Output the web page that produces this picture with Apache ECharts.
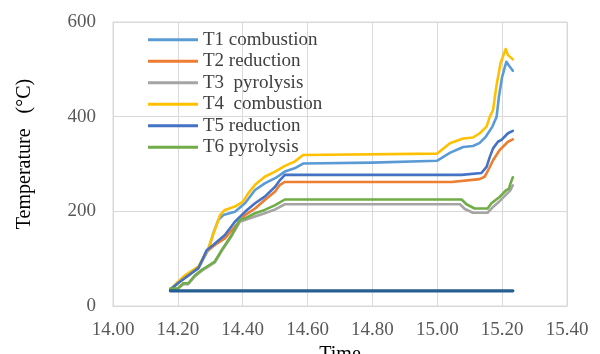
<!DOCTYPE html>
<html><head><meta charset="utf-8">
<script src="https://cdn.jsdelivr.net/npm/echarts@6/dist/echarts.min.js"></script>
<style>html,body{margin:0;padding:0;background:#fff}#c{width:600px;height:354px}</style>
</head><body><div id="c"></div>
<script>
var seriesNames = ['T1 combustion','T2 reduction','T3  pyrolysis','T4  combustion','T5 reduction','T6 pyrolysis'];
var xTicks = [14.0,14.2,14.4,14.6,14.8,15.0,15.2,15.4];
var yTicks = [0,200,400,600];
var t1 = [[14.177,35],[14.20,48],[14.222,62],[14.263,80],[14.294,119],[14.31,155],[14.325,182],[14.34,192],[14.376,199],[14.407,217],[14.438,245],[14.468,259],[14.50,270],[14.53,284],[14.56,291],[14.586,301],[14.80,303],[15.00,307],[15.04,324],[15.08,336],[15.11,338],[15.13,344],[15.15,358],[15.17,379],[15.183,400],[15.19,442],[15.20,484],[15.213,516],[15.223,506],[15.233,497]];
var t2 = [[14.177,35],[14.20,48],[14.263,80],[14.289,115],[14.314,129],[14.345,143],[14.376,168],[14.407,192],[14.438,206],[14.468,224],[14.50,242],[14.515,256],[14.53,262],[15.044,262],[15.05,265],[15.13,268],[15.146,273],[15.16,291],[15.172,308],[15.193,330],[15.218,347],[15.233,352]];
var t3 = [[14.177,35],[14.20,37],[14.217,46],[14.232,46],[14.253,63],[14.273,74],[14.314,92],[14.335,116],[14.366,148],[14.391,178],[14.438,189],[14.468,196],[14.50,204],[14.53,215],[15.07,215],[15.085,205],[15.11,197],[15.155,197],[15.17,208],[15.193,222],[15.213,236],[15.226,245],[15.233,255]];
var t4 = [[14.177,35],[14.20,51],[14.222,65],[14.263,83],[14.294,122],[14.314,161],[14.33,192],[14.345,203],[14.376,210],[14.40,220],[14.417,238],[14.438,256],[14.468,273],[14.50,284],[14.53,296],[14.56,305],[14.586,319],[15.00,322],[15.039,344],[15.08,354],[15.11,356],[15.131,365],[15.152,379],[15.162,400],[15.172,414],[15.182,463],[15.195,513],[15.211,543],[15.218,530],[15.233,521]];
var t5 = [[14.177,35],[14.20,48],[14.263,80],[14.273,94],[14.289,118],[14.309,129],[14.345,150],[14.376,178],[14.407,199],[14.438,217],[14.468,231],[14.50,252],[14.515,266],[14.53,277],[15.075,277],[15.08,280],[15.136,281],[15.152,294],[15.162,315],[15.172,333],[15.187,347],[15.198,351],[15.218,365],[15.233,370]];
var t6 = [[14.177,37],[14.20,37],[14.217,48],[14.232,48],[14.253,65],[14.273,76],[14.314,94],[14.335,118],[14.366,150],[14.391,182],[14.407,185],[14.438,196],[14.468,203],[14.50,213],[14.53,225],[15.075,225],[15.09,215],[15.115,206],[15.155,206],[15.167,217],[15.193,231],[15.213,245],[15.221,248],[15.226,259],[15.233,272]];
var ambient = [[14.177,32],[15.233,32]];
var colors = ['#5B9BD5','#ED7D31','#A5A5A5','#FFC000','#4472C4','#70AD47','#255E91'];
var allData = [t1,t2,t3,t4,t5,t6,ambient];
var font = 'Liberation Serif';
var series = allData.map(function(d,i){
  return {name: i<6?seriesNames[i]:'Ambient', type:'line', data:d, symbol:'none', smooth:false,
    lineStyle:{width:i<6?2.6:3.2,color:colors[i],join:'round',cap:'round'}, itemStyle:{color:colors[i]}, z:2+i, animation:false};
});
var chart = echarts.init(document.getElementById('c'));
chart.setOption({
  animation:false,
  grid:{left:113,right:33,top:22,bottom:48,containLabel:false,outerBoundsMode:'none'},
  legend:{data:seriesNames, orient:'vertical', left:143, top:24, icon:'rect', itemWidth:50, itemHeight:3, itemGap:0,
    textStyle:{fontFamily:font,fontSize:19,color:'#404040',lineHeight:21.5}},
  xAxis:{type:'value',min:14,max:15.4,interval:0.2,
    name:'Time',nameLocation:'middle',nameGap:32,nameTextStyle:{fontFamily:font,fontSize:20,color:'#000'},
    axisLine:{show:true,lineStyle:{color:'#d9d9d9'}},axisTick:{show:false},
    splitLine:{show:true,lineStyle:{color:'#d9d9d9'}},
    axisLabel:{fontFamily:font,fontSize:19,color:'#595959',margin:15,formatter:function(v){return v.toFixed(2);}}},
  yAxis:{type:'value',min:0,max:600,interval:200,
    name:'Temperature   (°C)',nameLocation:'middle',nameGap:78,nameTextStyle:{fontFamily:font,fontSize:20,color:'#000',padding:[0,0,0,20]},
    axisLine:{show:true,lineStyle:{color:'#d9d9d9'}},axisTick:{show:false},
    splitLine:{show:true,lineStyle:{color:'#d9d9d9'}},
    axisLabel:{fontFamily:font,fontSize:19,color:'#595959',margin:17}},
  graphic:[{type:'rect',shape:{x:113,y:22,width:454,height:284},style:{fill:'none',stroke:'#d9d9d9',lineWidth:1},z:0,silent:true}],
  series:series
});
</script></body></html>
